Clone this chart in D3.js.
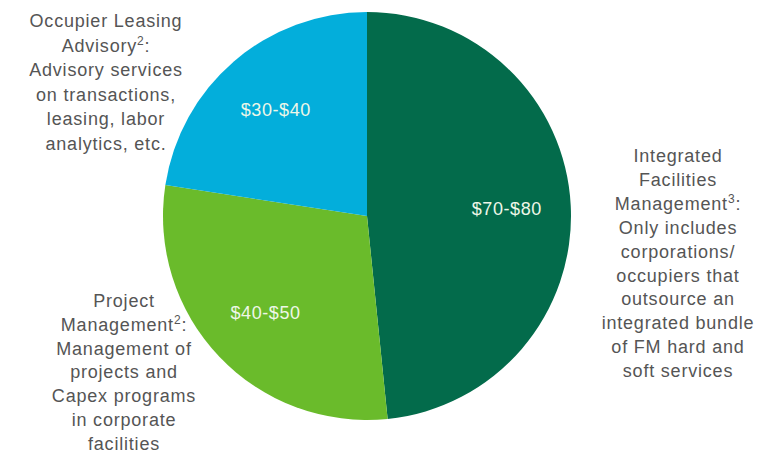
<!DOCTYPE html>
<html>
<head>
<meta charset="utf-8">
<script src="https://d3js.org/d3.v7.min.js"></script>
<style>
  body { margin: 0; background: #fff; }
  text { font-family: "Liberation Sans", Arial, sans-serif; }
</style>
</head>
<body>
<script>
// slice data (midpoint of each range, $bn)
var segments = ["Integrated Facilities Management", "Project Management", "Occupier Leasing Advisory"];
var values = [75, 45, 35];
var rangeLabels = ["$70-$80", "$40-$50", "$30-$40"];
var colors = ["#036b4b", "#6abb2b", "#03aedb"];

// outside descriptions: [text, superscript, after]
var descIFM = [["Integrated"], ["Facilities"], ["Management", "3", ":"], ["Only includes"], ["corporations/"],
               ["occupiers that"], ["outsource an"], ["integrated bundle"], ["of FM hard and"], ["soft services"]];
var descPM = [["Project"], ["Management", "2", ":"], ["Management of"], ["projects and"],
              ["Capex programs"], ["in corporate"], ["facilities"]];
var descOLA = [["Occupier Leasing"], ["Advisory", "2", ":"], ["Advisory services"], ["on transactions,"],
               ["leasing, labor"], ["analytics, etc."]];

var width = 760, height = 456;
var cx = 367, cy = 216, radius = 204;

var svg = d3.select("body").append("svg")
    .attr("width", width)
    .attr("height", height);

var g = svg.append("g").attr("transform", "translate(" + cx + "," + cy + ")");

var pie = d3.pie().sort(null).value(function(d) { return d; });
var arc = d3.arc().innerRadius(0).outerRadius(radius);
var labelArc = d3.arc().innerRadius(140).outerRadius(140);

var arcs = pie(values);

g.selectAll("path")
  .data(arcs)
  .enter().append("path")
    .attr("d", arc)
    .attr("fill", function(d, i) { return colors[i]; });

g.selectAll("text.val")
  .data(arcs)
  .enter().append("text")
    .attr("class", "val")
    .attr("transform", function(d) { return "translate(" + labelArc.centroid(d) + ")"; })
    .attr("text-anchor", "middle")
    .attr("dy", "0.35em")
    .style("font-size", "18px")
    .style("letter-spacing", "0.6px")
    .style("fill", "#eef7e8")
    .text(function(d, i) { return rangeLabels[i]; });

// description blocks
function block(lines, x, y, lh) {
  var t = svg.append("text")
      .attr("text-anchor", "middle")
      .style("font-size", "18px")
      .style("letter-spacing", "0.8px")
      .style("fill", "#555");
  lines.forEach(function(l, i) {
    t.append("tspan").attr("x", x).attr("y", y + i * lh).text(l[0]);
    if (l.length > 1) {
      t.append("tspan").attr("dy", -7).style("font-size", "12px").text(l[1]);
      t.append("tspan").attr("dy", 7).text(l[2]);
    }
  });
  return t;
}

block(descOLA, 106, 27, 24.6);
block(descIFM, 678, 162, 23.9);
block(descPM, 124, 307, 23.8);
</script>
</body>
</html>
